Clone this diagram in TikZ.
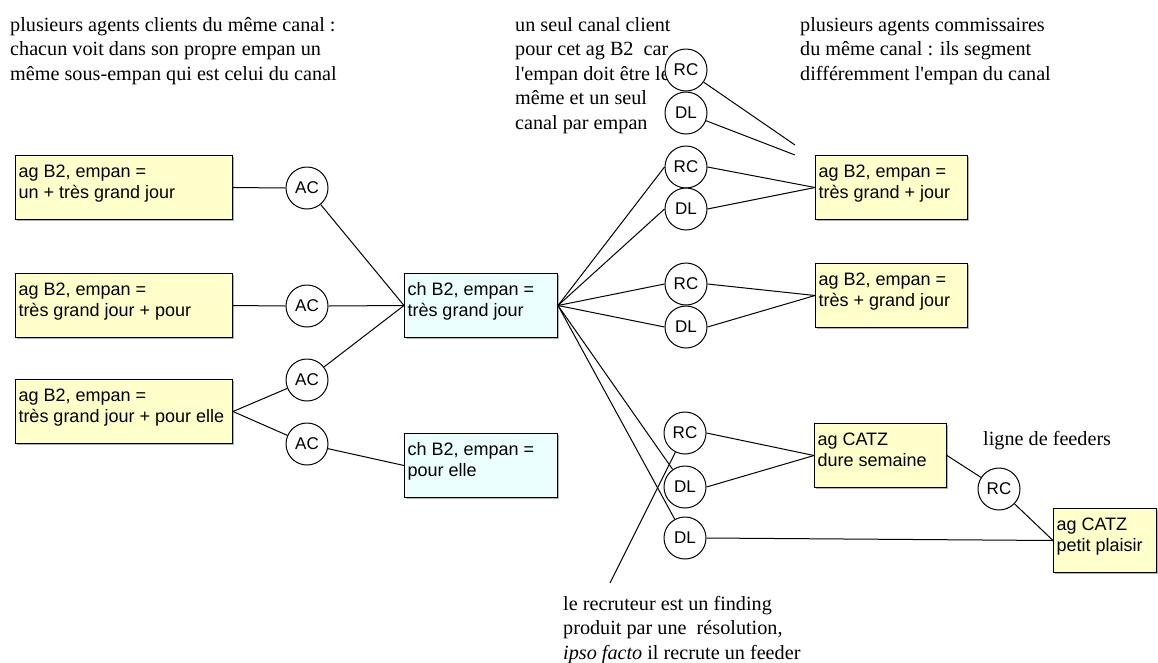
\documentclass[tikz,border=0pt]{standalone}
\usepackage{fontspec}
\setmainfont{Liberation Serif}
\newfontfamily\serifp{Liberation Serif}
\newfontfamily\sansf{Liberation Sans}
\usetikzlibrary{shadows}
\definecolor{yfill}{RGB}{255,255,204}
\definecolor{cfill}{RGB}{235,255,255}
\newcommand{\bt}[3]{\parbox[b][58pt][t]{#1}{\rule{0pt}{19pt}#2\\#3}}
\tikzset{
  boxbase/.style={draw=black, line width=1pt, inner sep=3pt, anchor=north west,
    font=\sansf\fontsize{18}{21}\selectfont,
    drop shadow={shadow xshift=1.2pt, shadow yshift=-1.2pt, fill=black, opacity=0.3}},
  ybox/.style={boxbase, fill=yfill},
  cbox/.style={boxbase, fill=cfill},
  circ/.style={circle, draw=black, line width=1pt, fill=white, minimum size=42pt, inner sep=0pt,
    font=\sansf\fontsize{17}{21}\selectfont},
  note/.style={inner sep=0pt, anchor=base west, font=\serifp\fontsize{20.2}{24.5}\selectfont},
  conn/.style={draw=black, line width=1pt}
}
\begin{document}
\begin{tikzpicture}[x=1pt,y=-1pt]
\useasboundingbox[fill=white] (0,0) rectangle (1158,662);

% notes
\node[note] (ntl) at (10,31) {\parbox[t]{420pt}{plusieurs agents clients du même canal :\\chacun voit dans son propre empan un\\même sous-empan qui est celui du canal}};
\node[note] (ntm) at (515,31) {\parbox[t]{200pt}{un seul canal client\\pour cet ag B2~ car\\l'empan doit être le\\même et un seul\\canal par empan}};
\node[note] (ntr) at (800,31) {\parbox[t]{340pt}{plusieurs agents commissaires\\du même canal : ils segment\\différemment l'empan du canal}};
\node[note] (nbot) at (563,610) {\parbox[t]{300pt}{le recruteur est un finding\\produit par une~ résolution,\\\textit{ipso facto} il recrute un feeder}};
\node[note] (nfeed) at (983,445) {ligne de feeders};

% boxes
\node[ybox] (L1) at (15,155) {\bt{211pt}{ag B2, empan =}{un + très grand jour}};
\node[ybox] (L2) at (15,273) {\bt{211pt}{ag B2, empan =}{très grand jour + pour}};
\node[ybox] (L3) at (15,379) {\bt{211pt}{ag B2, empan =}{très grand jour + pour elle}};
\node[cbox] (CH1) at (404,273) {\bt{147pt}{ch B2, empan =}{très grand jour}};
\node[cbox] (CH2) at (404,433) {\bt{147pt}{ch B2, empan =}{pour elle}};
\node[ybox] (R1) at (815,155) {\bt{146pt}{ag B2, empan =}{très grand + jour}};
\node[ybox] (R2) at (815,263) {\bt{146pt}{ag B2, empan =}{très + grand jour}};
\node[ybox] (CZ1) at (814,423) {\bt{126pt}{ag CATZ}{dure semaine}};
\node[ybox] (CZ2) at (1053,508) {\bt{97pt}{ag CATZ}{petit plaisir}};

% circles
\node[circ] (AC1) at (307,188) {AC};
\node[circ] (AC2) at (307,306) {AC};
\node[circ] (AC3) at (307,380) {AC};
\node[circ] (AC4) at (307,444) {AC};
\node[circ] (RC0) at (686,70) {RC};
\node[circ] (DL0) at (686,113) {DL};
\node[circ] (RC1) at (686,167) {RC};
\node[circ] (DL1) at (686,209) {DL};
\node[circ] (RC2) at (686,284) {RC};
\node[circ] (DL2) at (686,327) {DL};
\node[circ] (RC3) at (685,433) {RC};
\node[circ] (DL3) at (685,487) {DL};
\node[circ] (DL4) at (685,538) {DL};
\node[circ] (RC4) at (999,489) {RC};

% free ends
\coordinate (e1) at (795,145);
\coordinate (e2) at (795,155);
\coordinate (e3) at (610,583);

% connectors
\draw[conn] (L1.east) -- (AC1.west);
\draw[conn] (L2.east) -- (AC2.west);
\draw[conn] (L3.east) -- (AC3);
\draw[conn] (L3.east) -- (AC4);
\draw[conn] (AC1) -- (CH1.west);
\draw[conn] (AC2.east) -- (CH1.west);
\draw[conn] (AC3) -- (CH1.west);
\draw[conn] (AC4) -- (CH2.west);
\draw[conn] (CH1.east) -- (RC1.west);
\draw[conn] (CH1.east) -- (DL1.west);
\draw[conn] (CH1.east) -- (RC2.west);
\draw[conn] (CH1.east) -- (DL2.west);
\draw[conn] (CH1.east) -- (DL3);
\draw[conn] (CH1.east) -- (DL4);
\draw[conn] (RC0) -- (e1);
\draw[conn] (DL0) -- (e2);
\draw[conn] (RC1.east) -- (R1.west);
\draw[conn] (DL1.east) -- (R1.west);
\draw[conn] (RC2.east) -- (R2.west);
\draw[conn] (DL2.east) -- (R2.west);
\draw[conn] (RC3.east) -- (CZ1.west);
\draw[conn] (DL3.east) -- (CZ1.west);
\draw[conn] (CZ1.east) -- (RC4);
\draw[conn] (RC4) -- (CZ2.west);
\draw[conn] (DL4.east) -- (CZ2.west);
\draw[conn] (e3) -- (RC3);
\end{tikzpicture}
\end{document}
